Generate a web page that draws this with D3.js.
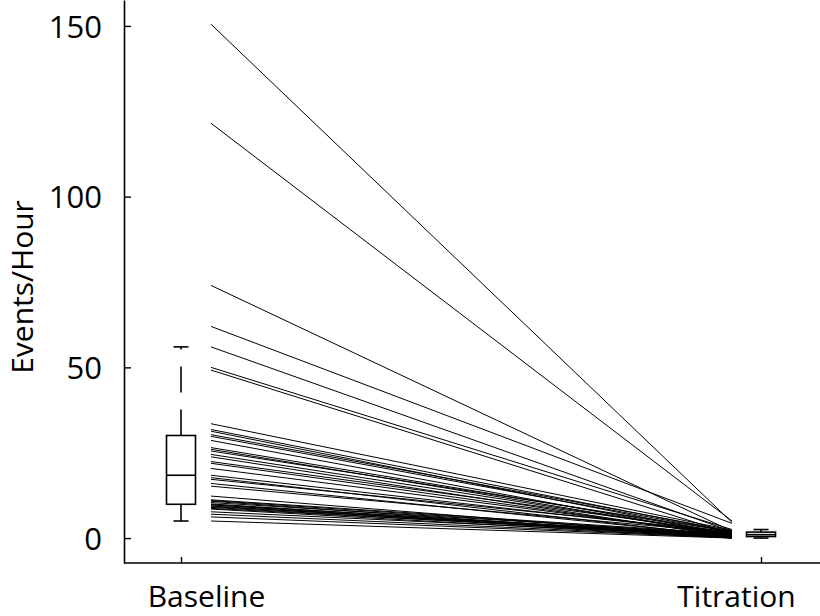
<!DOCTYPE html>
<html>
<head>
<meta charset="utf-8">
<script src="https://cdn.jsdelivr.net/npm/d3@7"></script>
<style>
  html, body { margin: 0; padding: 0; background: #fff; }
  svg { display: block; }
  text { font-family: "Open Sans", "Noto Sans", sans-serif; fill: #000; }
</style>
</head>
<body>
<svg id="chart" width="820" height="616"></svg>
<script>
// ---- data ----
const categories = ["Baseline", "Titration"];
const baseline = [150.5, 121.5, 74, 62, 56, 50, 49.2, 33.5, 31.8, 31.3, 30.3, 29.8, 28.6, 26.5, 26.0,
  25.5, 24.5, 23.8, 22.4, 21.9, 20.4, 18.4, 17.7, 17.2, 16.0, 15.2, 12.3, 11.2, 11.0, 10.8,
  10.4, 10.0, 9.8, 9.7, 9.4, 9.2, 9.0, 8.7, 8.5, 7.7, 7.0, 6.2, 5.0];
const titration = [4.6, 5.0, 2.0, 4.3, 1.9, 2.5, 1.2, 2.3, 1.8, 0.9, 2.1, 1.7, 0.5, 1.4, 0.8,
  1.9, 1.1, 0.3, 1.6, 0.7, 1.0, 1.3, 0.4, 1.8, 0.6, 1.5, 0.2, 1.2, 0.9, 0.0,
  1.1, 0.5, 0.8, 0.1, 0.4, 1.0, 0.3, 0.7, 0.0, 0.6, 0.2, 0.1, 0.0];
const yTicks = [0, 50, 100, 150];
const yLabel = "Events/Hour";

// ---- layout ----
const svg = d3.select("#chart");
const plotLeft = 124, plotRight = 820, plotTop = 0, plotBottom = 563;

const y = d3.scaleLinear().domain([-7.3, 157.6]).range([plotBottom, plotTop]);
const x = d3.scalePoint().domain(categories).range([181, 761]);

// paired lines
const pairs = baseline.map((b, i) => ({ b, t: titration[i] }));
const x0 = x("Baseline") + 30, x1 = x("Titration") - 29;
svg.append("g").selectAll("line").data(pairs).join("line")
  .attr("x1", x0).attr("x2", x1)
  .attr("y1", d => y(d.b)).attr("y2", d => y(d.t))
  .attr("stroke", "#000").attr("stroke-width", 1);

// box plots
function stats(arr) {
  const s = arr.slice().sort(d3.ascending);
  const q1 = d3.quantile(s, 0.25), med = d3.quantile(s, 0.5), q3 = d3.quantile(s, 0.75);
  const iqr = q3 - q1;
  const hi = d3.max(s.filter(v => v <= q3 + 1.5 * iqr));
  const lo = d3.min(s.filter(v => v >= q1 - 1.5 * iqr));
  return { q1, med, q3, hi, lo };
}
const series = { Baseline: baseline, Titration: titration };
const boxW = 29, capW = 15;
categories.forEach(c => {
  const st = stats(series[c]);
  const cx = x(c);
  const g = svg.append("g").attr("stroke", "#000").attr("stroke-width", 1.6).attr("fill", "none");
  g.append("line").attr("x1", cx).attr("x2", cx).attr("y1", y(st.q3)).attr("y2", y(st.hi))
    .attr("stroke-dasharray", "26,17");
  g.append("line").attr("x1", cx).attr("x2", cx).attr("y1", y(st.q1)).attr("y2", y(st.lo))
    .attr("stroke-dasharray", "26,17");
  [st.hi, st.lo].forEach(v => g.append("line")
    .attr("x1", cx - capW / 2).attr("x2", cx + capW / 2).attr("y1", y(v)).attr("y2", y(v)));
  g.append("rect").attr("x", cx - boxW / 2).attr("width", boxW)
    .attr("y", y(st.q3)).attr("height", y(st.q1) - y(st.q3)).attr("fill", "#fff");
  g.append("line").attr("x1", cx - boxW / 2).attr("x2", cx + boxW / 2)
    .attr("y1", y(st.med)).attr("y2", y(st.med));
});

// y axis
const yAxis = svg.append("g").attr("transform", `translate(${plotLeft},0)`)
  .call(d3.axisLeft(y).tickValues(yTicks).tickSizeInner(-7).tickSizeOuter(0).tickPadding(22));
yAxis.select(".domain").attr("stroke-width", 1.6);
yAxis.selectAll(".tick line").attr("stroke-width", 1.4);
yAxis.selectAll("text").style("font-size", "31px").attr("dy", "0.36em");

// x axis
svg.append("line").attr("x1", plotLeft).attr("x2", plotRight).attr("y1", plotBottom).attr("y2", plotBottom)
  .attr("stroke", "#000").attr("stroke-width", 1.6);
const xAxis = svg.append("g").attr("transform", `translate(0,${plotBottom})`)
  .call(d3.axisBottom(x).tickSizeInner(-6).tickSizeOuter(0));
xAxis.select(".domain").remove();
xAxis.selectAll(".tick line").attr("stroke-width", 1.4);
xAxis.selectAll("text").style("font-size", "30px")
  .attr("y", 44).attr("dy", "0")
  .attr("dx", d => d === "Baseline" ? 25 : -25);

// y label
svg.append("text")
  .attr("transform", "translate(33,287) rotate(-90)")
  .attr("text-anchor", "middle")
  .style("font-size", "30px")
  .text(yLabel);
</script>
</body>
</html>
